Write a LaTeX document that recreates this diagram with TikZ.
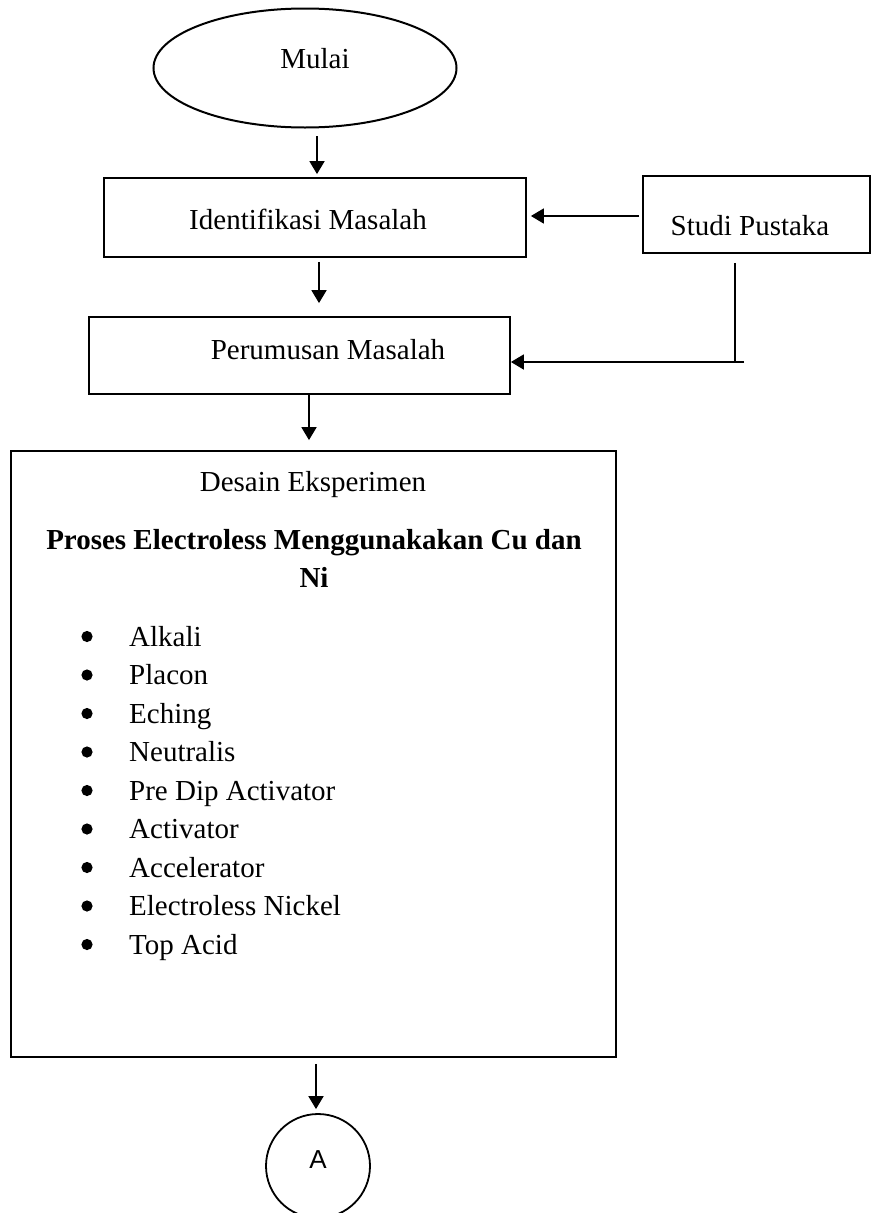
\documentclass[tikz,border=0pt]{standalone}
\usepackage{fontspec}
\setmainfont{Liberation Serif}
\newfontfamily\arialfont{Liberation Sans}
\usetikzlibrary{shapes.geometric,arrows.meta}
\tikzset{
  lw/.style={line width=1.8pt},
  boxnode/.style={draw, lw, rectangle, inner sep=0pt},
  arr/.style={lw, -{Triangle[length=13pt,width=15pt]}},
  txt/.style={anchor=base, inner sep=0pt, font=\fontsize{29}{35}\selectfont},
  bold/.style={txt, font=\fontsize{29}{36}\selectfont\bfseries},
}
\begin{document}
\begin{tikzpicture}[x=1pt,y=-1pt]
\useasboundingbox (0,0) rectangle (872,1213);
% nodes
\node[draw, line width=2pt, ellipse, inner sep=0pt, minimum width=303pt, minimum height=119pt] (mulai) at (305,68) {};
\node[txt] (mulaitxt) at (315,68) {Mulai};

\node[boxnode, minimum width=422pt, minimum height=79pt] (ident) at (315,217.5) {};
\node[txt] (identtxt) at (308,229) {Identifikasi Masalah};

\node[boxnode, minimum width=227pt, minimum height=77pt] (studi) at (756.5,214.5) {};
\node[txt] (studitxt) at (750,235) {Studi Pustaka};

\node[boxnode, minimum width=421pt, minimum height=77pt] (perum) at (299.5,355.5) {};
\node[txt] (perumtxt) at (328,359) {Perumusan Masalah};

\node[boxnode, minimum width=605pt, minimum height=606pt] (desain) at (313.5,754) {};
\node[txt] (desaintxt) at (313,491) {Desain Eksperimen};
\node[bold] (proses1) at (314,549) {Proses Electroless Menggunakakan Cu dan};
\node[bold] (proses2) at (314,587) {Ni};
\foreach \t [count=\i from 0] in {Alkali,Placon,Eching,Neutralis,Pre Dip Activator,Activator,Accelerator,Electroless Nickel,Top Acid}{
  \fill (87,646+\i*38.5-9.5) circle (5.6pt);
  \node[txt, anchor=base west] (item\i) at (129,646+\i*38.5) {\t};
}

\node[draw, lw, circle, minimum size=104pt, inner sep=0pt, text depth=12pt, font=\arialfont\fontsize{26}{30}\selectfont] (A) at (318,1166) {A};

% arrow positions
\coordinate (x1) at (317,0);
\coordinate (x2) at (319,0);
\coordinate (x3) at (309,0);
\coordinate (x4) at (316,0);
\coordinate (y5) at (0,216);

% connectors
\draw[arr, shorten <=7.5pt, shorten >=3pt] (mulai.south -| x1) -- (ident.north -| x1);
\draw[arr, shorten <=4pt, shorten >=13pt] (ident.south -| x2) -- (perum.north -| x2);
\draw[arr, shorten >=10pt] (perum.south -| x3) -- (desain.north -| x3);
\draw[arr, shorten <=6pt, shorten >=4pt] (desain.south -| x4) -- (A.north -| x4);
\draw[arr, shorten <=3pt, shorten >=4pt] (studi.west |- y5) -- (ident.east |- y5);
\coordinate (spA) at ([xshift=-21.5pt,yshift=-9pt]studi.south);
\coordinate (spB) at (744,362);
\draw[lw] (spA) |- (spB);
\draw[arr] (spB) -- (spB -| perum.east);
\end{tikzpicture}
\end{document}
